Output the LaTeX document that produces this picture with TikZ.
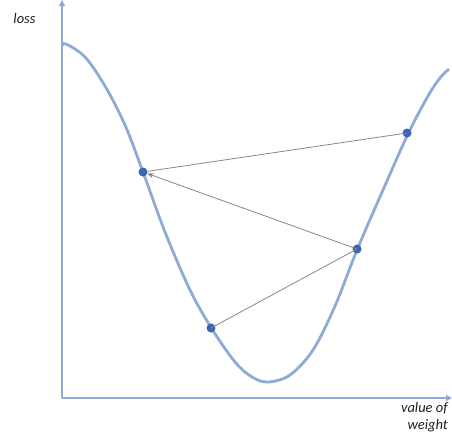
\documentclass[tikz,border=0pt]{standalone}
\usepackage{fontspec}
\setmainfont{Carlito}
\usetikzlibrary{arrows.meta}
\definecolor{curveblue}{RGB}{143,170,212}
\definecolor{dotblue}{RGB}{60,100,180}
\definecolor{arrowgray}{RGB}{135,135,135}
\definecolor{textgray}{RGB}{30,30,30}
\tikzset{
  axisline/.style={draw=curveblue, line width=2.2pt, -{Triangle[width=6pt,length=6pt]}},
  curveline/.style={draw=curveblue, line width=2.8pt},
  dot/.style={circle, fill=dotblue, inner sep=0pt, minimum size=9pt},
  stepline/.style={draw=arrowgray, line width=0.8pt},
  lbl/.style={font=\itshape\fontsize{14.5}{17.5}\selectfont, text=textgray, inner sep=0pt}
}
\begin{document}
\begin{tikzpicture}[x=1pt,y=-1pt]
\useasboundingbox (0,0) rectangle (452,440);
\coordinate (o) at (62,398);
\coordinate (ytop) at (62,0);
\coordinate (xend) at (452,398);
\draw[axisline] (o) -- (ytop);
\draw[axisline] (o) -- (xend);
\draw[curveline] plot[smooth, tension=0.55] coordinates {(62,46) (66,44) (85,57) (105,86) (125,125) (143,172) (165,232) (190,290) (212,329) (235,362) (252,377) (268,382) (290,375) (313,350) (335,306) (357,250) (383,190) (408,134) (428,96) (440,78) (449,69)};
\node[dot] (p1) at (143,172) {};
\node[dot] (p2) at (211,328) {};
\node[dot] (p3) at (357,249) {};
\node[dot] (p4) at (407,133) {};
\draw[stepline] (p2.center) -- (p3.center);
\draw[stepline, -{Stealth[length=6pt,width=5pt]}] (p3.center) -- (p1);
\draw[stepline] (p4.center) -- (p1);
\node[lbl] (loss) at (24.5,19) {loss};
\node[lbl, align=right, anchor=north east] (wlabel) at (448,402) {value of\\weight};
\end{tikzpicture}
\end{document}
